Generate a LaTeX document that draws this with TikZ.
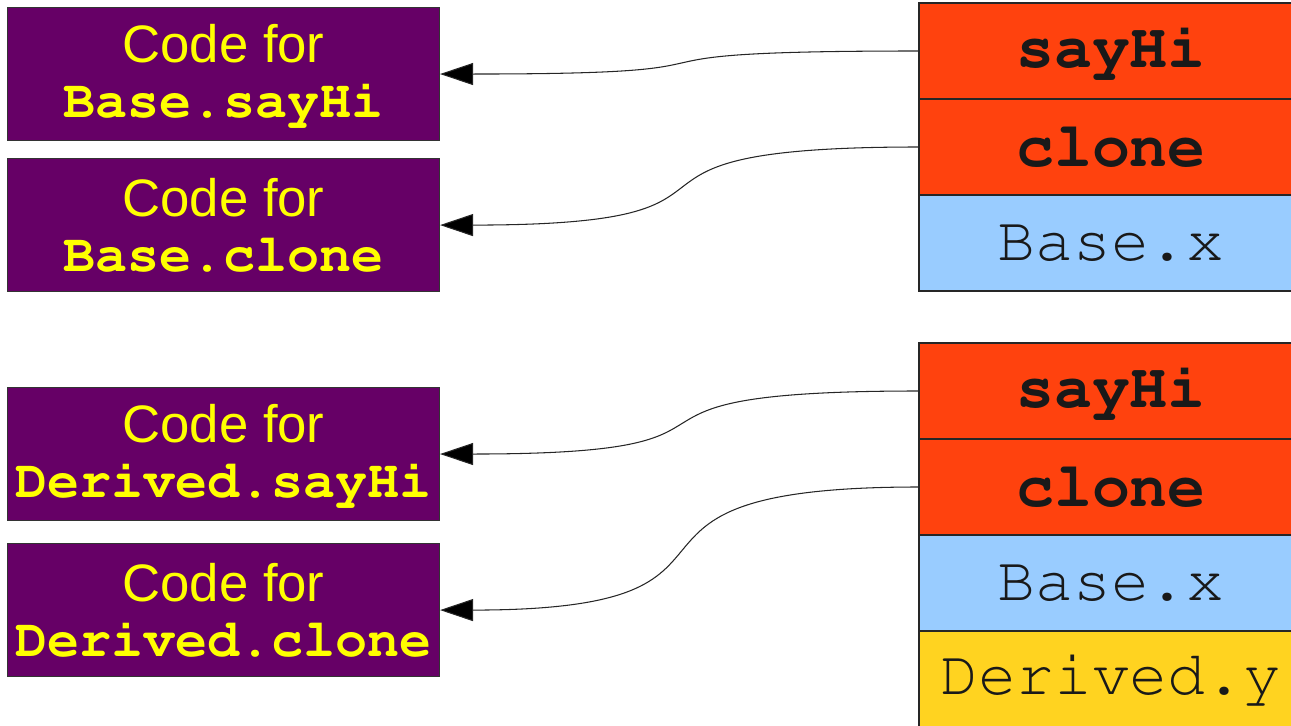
\documentclass[tikz,border=0pt]{standalone}
\usepackage[T1]{fontenc}
\usepackage{fontspec}
\setmainfont{Liberation Sans}
\setmonofont{Liberation Mono}
\usetikzlibrary{positioning,arrows.meta}

\definecolor{codepurple}{HTML}{660066}
\definecolor{codeyellow}{HTML}{FFFF00}
\definecolor{methodred}{HTML}{FF420E}
\definecolor{fieldblue}{HTML}{99CCFF}
\definecolor{fieldyellow}{HTML}{FFD320}

\newcommand\courier{\fontencoding{T1}\fontfamily{pcr}\selectfont}
\newcommand\cname[1]{{\fontsize{30.4}{31}\courier\bfseries #1}}

\tikzset{
  codebox/.style={draw=black!80, line width=0.6pt, fill=codepurple, text=codeyellow,
    minimum width=8.64cm, minimum height=2.66cm, inner sep=0pt, align=center,
    font=\fontsize{30}{31.3}\selectfont},
  slot/.style={draw=black!85, line width=0.6pt, outer sep=0pt, text=black!90,
    minimum width=7.68cm, minimum height=1.92cm, inner sep=0pt},
  method/.style={slot, fill=methodred, font=\fontsize{36}{36}\selectfont\courier\bfseries},
  field/.style={slot, font=\fontsize{36}{36}\selectfont\courier},
  ptr/.style={draw=black!85, line width=0.6pt, -{Triangle[length=0.66cm,width=0.44cm,fill=black]}}
}

\begin{document}
\begin{tikzpicture}
  \useasboundingbox (0,0) rectangle (25.82,-14.52);

  % code of the methods
  \node[codebox, anchor=north west] (bsay) at (0.14,-0.14) {Code for\\\cname{Base.sayHi}};
  \node[codebox, below=0.34cm of bsay] (bclone) {Code for\\\cname{Base.clone}};
  \node[codebox, anchor=north west] (dsay) at (0.14,-7.74) {Code for\\\cname{Derived.sayHi}};
  \node[codebox, below=0.44cm of dsay] (dclone) {Code for\\\cname{Derived.clone}};

  % Base object
  \node[method, anchor=north west] (bosay) at (18.38,-0.06) {sayHi};
  \node[method, below=0pt of bosay] (boclone) {clone};
  \node[field, fill=fieldblue, below=0pt of boclone] (box) {Base.x};

  % Derived object
  \node[method, anchor=north west] (dosay) at (18.38,-6.86) {sayHi};
  \node[method, below=0pt of dosay] (doclone) {clone};
  \node[field, fill=fieldblue, below=0pt of doclone] (dox) {Base.x};
  \node[field, fill=fieldyellow, below=0pt of dox] (doy) {Derived.y};

  % pointers
  \draw[ptr] (bosay.west) .. controls +(-7.2,0) and +(7.2,0) .. (bsay.east);
  \draw[ptr] (boclone.west) .. controls +(-7.2,0) and +(7.2,0) .. (bclone.east);
  \draw[ptr] (dosay.west) .. controls +(-7.2,0) and +(7.2,0) .. (dsay.east);
  \draw[ptr] (doclone.west) .. controls +(-7.2,0) and +(7.2,0) .. (dclone.east);
\end{tikzpicture}
\end{document}
